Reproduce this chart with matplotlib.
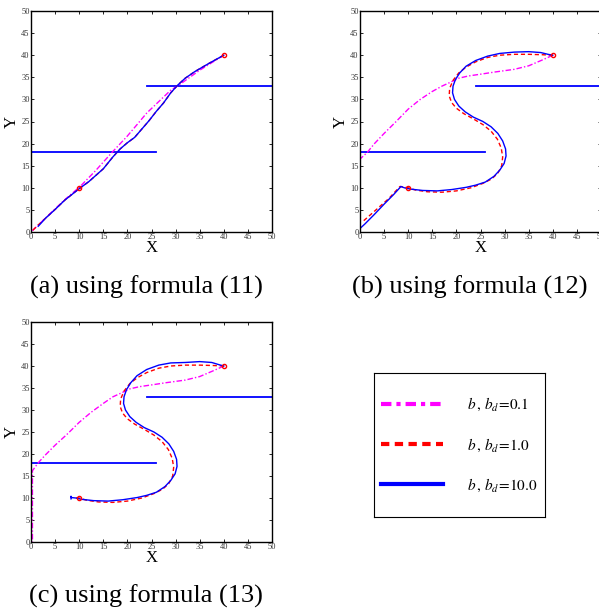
import matplotlib
matplotlib.use("Agg")
import matplotlib.pyplot as plt
from matplotlib.lines import Line2D

plt.rcParams['mathtext.fontset'] = 'stix'
plt.rcParams['font.family'] = ['Liberation Serif', 'DejaVu Serif']

# obstacles (two walls) and start / goal points
wall1_x = [0, 26]
wall1_y = [18, 18]
wall2_x = [24, 50]
wall2_y = [33, 33]
pts_x = [40, 10]
pts_y = [40, 10]

# (a) formula (11)
a_blue_x = [40, 37, 34, 32, 30.5, 29, 27.5, 26, 24.5, 23, 21.5, 20, 18.5, 17, 15, 12, 10, 7, 5, 3, 1.5]
a_blue_y = [40, 38.2, 36.3, 34.8, 33.3, 31.5, 29.2, 27.3, 25.2, 23.3, 21.4, 20.2, 18.8, 17, 14.3, 11.4, 9.8, 7.2, 5.1, 3.1, 1.3]
a_red_x = [40, 37, 34, 32, 30.5, 29, 27.5, 26, 24.5, 23, 21.5, 20, 18.5, 17, 15, 12, 10, 7, 5, 3, 1.5, 0]
a_red_y = [40, 38.2, 36.3, 34.8, 33.3, 31.5, 29.2, 27.3, 25.2, 23.3, 21.4, 20.2, 18.8, 17, 14.3, 11.4, 9.8, 7.2, 5.1, 3.1, 1.6, 0]
a_mag_x = [40, 35, 30.5, 29, 26.5, 24, 22, 19.9, 16.8, 13.5, 10.2, 7, 4, 0]
a_mag_y = [40, 36.6, 33.1, 32.1, 29.5, 26.9, 24.3, 21.6, 18, 14, 10.3, 7.3, 4.2, 0]

# (b) formula (12)
b_blue_x = [40, 39, 37.5, 35, 32, 29, 26.5, 24, 22, 20.7, 19.8, 19.3, 19.2, 19.6, 20.5,
            21.8, 23.5, 25.5, 27.2, 28.6, 29.6, 30.2, 30.3, 29.9, 29, 27.8, 26, 24, 22,
            19, 16, 13, 10.5, 9.2, 8.5, 7, 5, 3, 1, 0]
b_blue_y = [40, 40.2, 40.6, 40.8, 40.7, 40.4, 39.8, 38.8, 37.5, 36, 34.5, 33, 31.5, 30,
            28.5, 27.2, 26, 25, 23.8, 22.3, 20.6, 18.8, 17.2, 15.5, 14, 12.6, 11.3,
            10.6, 10.1, 9.6, 9.3, 9.4, 9.7, 10, 10.3, 8.5, 6.3, 4, 1.8, 0.8]
b_red_x = [40, 38, 35, 32, 29, 26.5, 24, 22, 20.5, 19.3, 18.6, 18.5, 19, 20, 21.5, 23.5,
           25.5, 27.2, 28.5, 29.3, 29.6, 29.4, 28.6, 27.3, 25.5, 23, 20, 17, 14, 11.5,
           10, 8.3, 6, 3, 0.5]
b_red_y = [40, 40.1, 40.2, 40.2, 40, 39.5, 38.5, 37.3, 36, 34.3, 32.5, 30.8, 29.3, 28,
           26.8, 25.6, 24.3, 22.8, 21, 19, 17, 15, 13.3, 12, 11, 10, 9.3, 9, 9.1, 9.5,
           10, 10.3, 7.6, 4.7, 2.3]
b_mag_x = [40, 38, 35, 32, 28, 25, 22.5, 20.5, 19, 17, 15, 12.5, 10, 7.5, 5, 3, 1.5, 0]
b_mag_y = [40, 39, 37.6, 36.8, 36.2, 35.7, 35.3, 34.8, 34, 33, 31.8, 30, 27.8, 25,
           22.3, 20, 18, 16.5]

# (c) formula (13)
c_blue_x = [40, 39, 37.5, 35, 32, 29, 26.5, 24, 22, 20.7, 19.8, 19.3, 19.2, 19.6, 20.5,
            21.8, 23.5, 25.5, 27.2, 28.6, 29.6, 30.2, 30.3, 29.9, 29, 27.8, 26, 24, 22,
            19, 16, 13, 10.5, 9.3, 8.4, 8.3, 8.3]
c_blue_y = [40, 40.3, 40.8, 41, 40.8, 40.7, 40.2, 39.2, 37.8, 36.2, 34.6, 33, 31.5, 30,
            28.5, 27.2, 26, 25, 23.8, 22.3, 20.6, 18.8, 17.2, 15.5, 14, 12.6, 11.3,
            10.6, 10.1, 9.6, 9.3, 9.4, 9.7, 10, 10.1, 10.4, 9.8]
c_red_x = [40, 38, 35, 32, 29, 26.5, 24, 22, 20.5, 19.3, 18.6, 18.5, 19, 20, 21.5, 23.5,
           25.5, 27.2, 28.5, 29.3, 29.6, 29.4, 28.6, 27.3, 25.5, 23, 20, 17, 14, 11.5,
           10, 9]
c_red_y = [40, 40.1, 40.2, 40.2, 40, 39.5, 38.5, 37.3, 36, 34.3, 32.5, 30.8, 29.3, 28,
           26.8, 25.6, 24.3, 22.8, 21, 19, 17, 15, 13.3, 12, 11, 10, 9.3, 9, 9.1, 9.5,
           10, 10]
c_mag_x = [40, 38, 35, 32, 28, 25, 22.5, 20.5, 19, 17, 15, 12.5, 10, 7.5, 5, 3, 1.5,
           0.3, 0.3, 0.3]
c_mag_y = [40, 39, 37.6, 36.8, 36.2, 35.7, 35.3, 34.8, 34, 33, 31.5, 29.5, 27.2, 24.5,
           22, 19.8, 18, 16.2, 8, 0]

ticks = list(range(0, 51, 5))
labels = [r'$b\,,\,b_d\!=\!0.1$', r'$b\,,\,b_d\!=\!1.0$', r'$b\,,\,b_d\!=\!10.0$']
captions = ['(a) using formula (11)', '(b) using formula (12)', '(c) using formula (13)']

W, H = 599, 612
fig = plt.figure(figsize=(W / 100, H / 100), dpi=100)


def px_axes(left, top, right, bottom):
    return fig.add_axes([left / W, 1 - bottom / H, (right - left) / W, (bottom - top) / H])


def draw_panel(ax, bx, by, rx, ry, mx, my):
    ax.plot(wall1_x, wall1_y, color='#0000ff', lw=1.3)
    ax.plot(wall2_x, wall2_y, color='#0000ff', lw=1.3)
    ax.plot(mx, my, color='#ff00ff', lw=1.0, ls=(0, (4, 1.5, 1, 1.5)))
    ax.plot(rx, ry, color='#ff0000', lw=1.0, ls=(0, (3, 2)))
    ax.plot(bx, by, color='#0000ff', lw=1.0)
    ax.plot(pts_x, pts_y, 'o', mfc='none', mec='#ff0000', ms=3, mew=1)
    ax.set_xlim(0, 50)
    ax.set_ylim(0, 50)
    ax.set_xticks(ticks)
    ax.set_yticks(ticks)
    ax.tick_params(direction='in', length=2.5, width=0.6, labelsize=6,
                   labelcolor='#333333', top=True, right=True, pad=1)
    for s in ax.spines.values():
        s.set_linewidth(1.0)
    ax.set_xlabel('X', fontsize=12, labelpad=-1)
    ax.set_ylabel('Y', fontsize=12, labelpad=1)


ax_a = px_axes(31, 11, 272, 232)
draw_panel(ax_a, a_blue_x, a_blue_y, a_red_x, a_red_y, a_mag_x, a_mag_y)
ax_b = px_axes(360, 11, 601, 232)
draw_panel(ax_b, b_blue_x, b_blue_y, b_red_x, b_red_y, b_mag_x, b_mag_y)
ax_c = px_axes(31, 322, 272, 542)
draw_panel(ax_c, c_blue_x, c_blue_y, c_red_x, c_red_y, c_mag_x, c_mag_y)

fig.text(146 / W, 1 - 287 / H, captions[0], fontsize=19, ha='center', va='center')
fig.text(470 / W, 1 - 287 / H, captions[1], fontsize=19, ha='center', va='center')
fig.text(146 / W, 1 - 596 / H, captions[2], fontsize=19, ha='center', va='center')

# legend box
ax_l = px_axes(374, 373, 545, 517)
ax_l.set_xticks([])
ax_l.set_yticks([])
handles = [
    Line2D([], [], color='#ff00ff', lw=3, ls=(0, (2.5, 1.2, 1, 1.2))),
    Line2D([], [], color='#ff0000', lw=3, ls=(0, (2, 1.3))),
    Line2D([], [], color='#0000ff', lw=3),
]
ax_l.legend(handles, labels, loc='center', frameon=False, fontsize=11,
            handlelength=4.0, handletextpad=1.6, labelspacing=1.5)

fig.savefig('out.png', dpi=100)
